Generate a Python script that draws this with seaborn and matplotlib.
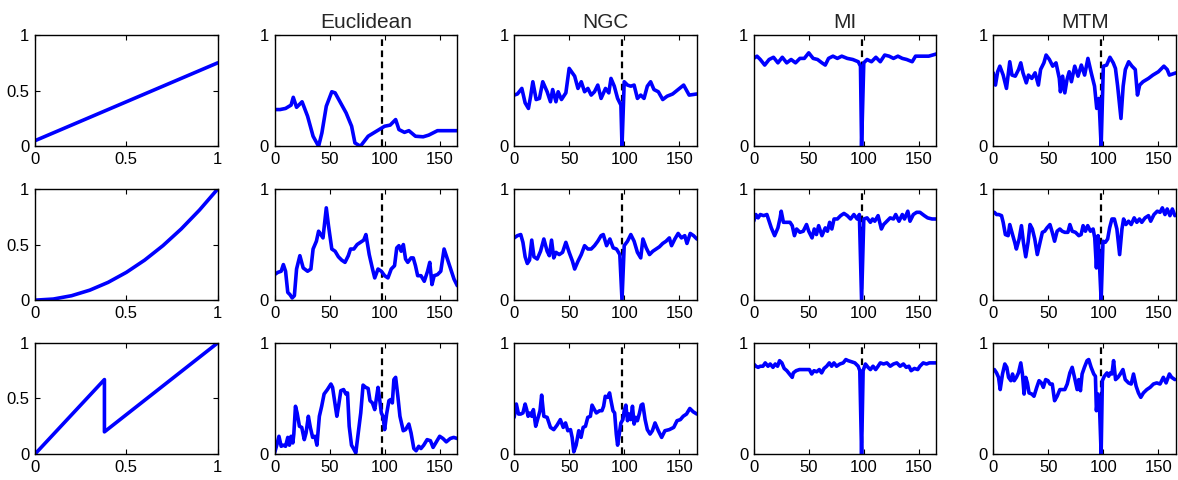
import numpy as np
import pandas as pd
import seaborn as sns
import matplotlib.pyplot as plt

# column titles (first column has none)
titles = ['', 'Euclidean', 'NGC', 'MI', 'MTM']
true_pos = 98

# left column: the transfer functions
f1_x = [0, 1]
f1_y = [0.05, 0.75]
f2_x = [0, 0.1, 0.2, 0.3, 0.4, 0.5, 0.6, 0.7, 0.8, 0.9, 1.0]
f2_y = [0, 0.01, 0.04, 0.09, 0.16, 0.25, 0.36, 0.49, 0.64, 0.81, 1.0]
f3_x = [0, 0.38, 0.38, 1.0]
f3_y = [0, 0.67, 0.2, 1.0]

# row 1
euc1_x = [0, 5, 10, 15, 17, 20, 25, 30, 35, 40, 43, 47, 52, 55, 60, 65, 70, 73, 78, 85, 90, 95, 100,
          105, 110, 113, 118, 122, 128, 135, 140, 148, 155, 166]
euc1_y = [0.33, 0.33, 0.34, 0.37, 0.44, 0.35, 0.40, 0.27, 0.09, 0.0, 0.12, 0.36, 0.49, 0.48, 0.39,
          0.30, 0.18, 0.03, 0.0, 0.09, 0.12, 0.15, 0.18, 0.19, 0.24, 0.15, 0.125, 0.14, 0.09, 0.085,
          0.10, 0.14, 0.14, 0.14]
ngc1_x = [0, 3, 7, 10, 13, 15, 17, 20, 23, 26, 30, 33, 35, 38, 40, 43, 47, 50, 55, 58, 61, 64, 67,
          70, 73, 76, 79, 83, 86, 88, 91, 94, 97, 98, 100, 103, 106, 109, 112, 115, 118, 121, 124,
          127, 131, 135, 139, 144, 149, 154, 159, 166]
ngc1_y = [0.46, 0.47, 0.52, 0.39, 0.34, 0.45, 0.58, 0.42, 0.43, 0.58, 0.49, 0.40, 0.51, 0.40, 0.49,
          0.42, 0.48, 0.70, 0.63, 0.52, 0.58, 0.49, 0.52, 0.46, 0.49, 0.55, 0.43, 0.52, 0.48, 0.61,
          0.54, 0.43, 0.37, 0.0, 0.58, 0.55, 0.54, 0.55, 0.43, 0.46, 0.43, 0.54, 0.58, 0.51, 0.49,
          0.42, 0.45, 0.47, 0.51, 0.55, 0.46, 0.47]
mi1_x = [0, 3, 6, 10, 14, 18, 22, 26, 30, 34, 38, 42, 46, 50, 54, 58, 62, 65, 68, 72, 76, 80, 85,
         90, 95, 97, 98, 100, 103, 107, 111, 115, 119, 123, 127, 131, 135, 139, 144, 147, 151, 155,
         159, 166]
mi1_y = [0.79, 0.81, 0.78, 0.73, 0.78, 0.80, 0.75, 0.80, 0.75, 0.78, 0.75, 0.79, 0.79, 0.84, 0.79,
         0.78, 0.75, 0.73, 0.79, 0.81, 0.79, 0.81, 0.79, 0.78, 0.76, 0.72, 0.0, 0.75, 0.78, 0.76,
         0.80, 0.76, 0.82, 0.81, 0.79, 0.81, 0.79, 0.78, 0.76, 0.81, 0.81, 0.81, 0.81, 0.83]
mtm1_x = [0, 2, 4, 6, 9, 12, 15, 17, 20, 23, 25, 27, 30, 32, 35, 38, 41, 43, 46, 48, 51, 54, 57,
          60, 61, 63, 65, 67, 69, 71, 74, 77, 80, 83, 86, 89, 92, 94, 96, 98, 100, 103, 106, 109,
          111, 113, 116, 118, 120, 123, 126, 129, 131, 133, 136, 141, 145, 150, 155, 158, 160, 166]
mtm1_y = [0.66, 0.55, 0.67, 0.72, 0.64, 0.52, 0.76, 0.64, 0.63, 0.69, 0.75, 0.66, 0.57, 0.64, 0.61,
          0.66, 0.55, 0.69, 0.75, 0.82, 0.78, 0.72, 0.75, 0.61, 0.49, 0.63, 0.48, 0.60, 0.67, 0.58,
          0.72, 0.63, 0.73, 0.64, 0.79, 0.66, 0.54, 0.34, 0.43, 0.0, 0.72, 0.73, 0.80, 0.75, 0.70,
          0.54, 0.25, 0.54, 0.69, 0.76, 0.72, 0.69, 0.46, 0.55, 0.58, 0.61, 0.64, 0.67, 0.72, 0.69,
          0.64, 0.66]

# row 2
euc2_x = [0, 3, 6, 8, 10, 12, 14, 16, 18, 20, 23, 26, 30, 33, 35, 38, 40, 42, 44, 47, 49, 52, 55,
          58, 61, 64, 67, 69, 72, 75, 78, 81, 83, 86, 89, 91, 94, 97, 100, 103, 106, 109, 111, 113,
          115, 117, 119, 121, 124, 126, 128, 130, 133, 136, 139, 141, 143, 145, 148, 151, 154, 157,
          160, 163, 166]
euc2_y = [0.23, 0.25, 0.26, 0.32, 0.26, 0.07, 0.05, 0.02, 0.04, 0.28, 0.40, 0.29, 0.26, 0.28, 0.46,
          0.53, 0.62, 0.59, 0.56, 0.83, 0.67, 0.46, 0.44, 0.39, 0.36, 0.34, 0.40, 0.46, 0.46, 0.50,
          0.52, 0.54, 0.59, 0.41, 0.28, 0.20, 0.28, 0.26, 0.22, 0.20, 0.28, 0.31, 0.47, 0.49, 0.44,
          0.50, 0.37, 0.34, 0.38, 0.38, 0.31, 0.22, 0.22, 0.17, 0.26, 0.34, 0.14, 0.22, 0.23, 0.26,
          0.46, 0.37, 0.28, 0.19, 0.13]
ngc2_x = [0, 3, 6, 8, 10, 12, 14, 16, 18, 21, 24, 27, 30, 32, 34, 36, 38, 41, 44, 47, 50, 53, 55,
          58, 61, 64, 67, 70, 73, 76, 79, 81, 84, 87, 90, 93, 96, 98, 100, 103, 106, 109, 112, 115,
          117, 120, 123, 126, 129, 132, 135, 138, 141, 143, 146, 149, 152, 155, 157, 160, 163, 166]
ngc2_y = [0.56, 0.58, 0.59, 0.52, 0.39, 0.33, 0.36, 0.54, 0.39, 0.37, 0.44, 0.55, 0.44, 0.40, 0.54,
          0.38, 0.43, 0.41, 0.43, 0.52, 0.43, 0.35, 0.28, 0.35, 0.41, 0.49, 0.46, 0.46, 0.49, 0.53,
          0.58, 0.59, 0.49, 0.55, 0.47, 0.46, 0.41, 0.0, 0.49, 0.53, 0.59, 0.53, 0.43, 0.38, 0.55,
          0.47, 0.41, 0.44, 0.46, 0.48, 0.51, 0.53, 0.56, 0.49, 0.55, 0.60, 0.56, 0.58, 0.51, 0.60,
          0.58, 0.55]
mi2_x = [0, 2, 4, 6, 9, 12, 14, 16, 19, 22, 24, 25, 27, 30, 33, 35, 37, 39, 42, 45, 48, 50, 53, 55,
         57, 59, 62, 65, 67, 69, 71, 73, 76, 79, 82, 85, 88, 91, 94, 96, 98, 100, 103, 106, 108,
         110, 113, 116, 118, 121, 124, 127, 129, 132, 135, 137, 140, 142, 145, 148, 151, 155, 158,
         162, 166]
mi2_y = [0.71, 0.77, 0.74, 0.77, 0.76, 0.77, 0.71, 0.65, 0.58, 0.65, 0.74, 0.80, 0.70, 0.70, 0.70,
         0.67, 0.58, 0.64, 0.61, 0.62, 0.68, 0.62, 0.56, 0.64, 0.59, 0.67, 0.58, 0.65, 0.62, 0.70,
         0.64, 0.73, 0.73, 0.76, 0.78, 0.76, 0.73, 0.77, 0.73, 0.77, 0.0, 0.73, 0.74, 0.70, 0.73,
         0.71, 0.76, 0.64, 0.68, 0.71, 0.74, 0.73, 0.77, 0.71, 0.77, 0.73, 0.80, 0.71, 0.77, 0.79,
         0.79, 0.76, 0.74, 0.73, 0.73]
mtm2_x = [1, 3, 5, 7.5, 9, 11, 13.5, 15, 17.5, 19.5, 21, 23.5, 25.6, 27.4, 29.5, 31.6, 33.4, 35.5,
          37.7, 40, 42.5, 44.6, 46.7, 48.8, 51.5, 53.6, 55.7, 58, 60.5, 62.6, 65, 67.8, 69.6, 71.7,
          74.7, 77.7, 79.8, 81.6, 83.7, 85.8, 88.3, 90.7, 92.2, 93.7, 95.2, 96.4, 98, 99.7, 101.8,
          103.9, 105.7, 107.8, 110, 112.3, 114.8, 116.9, 118.4, 120.5, 122.9, 125.3, 128, 130.4,
          132.8, 134.9, 137.9, 141, 143, 146, 149, 151.5, 153.6, 156, 158, 160.5, 162.7, 165]
mtm2_y = [0.79, 0.77, 0.77, 0.76, 0.70, 0.59, 0.58, 0.68, 0.59, 0.52, 0.46, 0.55, 0.67, 0.52, 0.39,
          0.52, 0.68, 0.64, 0.55, 0.41, 0.52, 0.61, 0.62, 0.65, 0.68, 0.61, 0.53, 0.62, 0.64, 0.62,
          0.61, 0.61, 0.68, 0.62, 0.61, 0.58, 0.59, 0.67, 0.62, 0.67, 0.62, 0.64, 0.56, 0.29, 0.58,
          0.34, 0.0, 0.53, 0.52, 0.55, 0.65, 0.73, 0.73, 0.64, 0.41, 0.64, 0.73, 0.68, 0.71, 0.68,
          0.74, 0.70, 0.73, 0.70, 0.74, 0.76, 0.71, 0.77, 0.80, 0.79, 0.83, 0.77, 0.82, 0.76, 0.82,
          0.76]

# row 3
euc3_x = [0, 2, 4, 6, 8, 10, 12, 13.5, 15, 16.6, 17.5, 19, 20.5, 22.6, 24.7, 27, 28.6, 30.7, 32.5,
          34.6, 36.7, 38.5, 40.7, 42.8, 45, 48, 51.2, 52.7, 54.8, 56.6, 58.1, 60.2, 62.7, 64.8,
          66.3, 67.8, 69.9, 71.7, 73.8, 75.9, 78.3, 80.4, 82.8, 85, 86.7, 88.9, 91, 92.8, 94, 95.5,
          97, 98.5, 100, 101.8, 103.9, 105.4, 107, 108.4, 110, 112, 113.9, 116.9, 119, 122, 124,
          126.5, 128.6, 131, 133, 135.5, 138.6, 141.6, 144, 147, 150, 153, 156, 159.6, 162.7, 166]
euc3_y = [0.01, 0.08, 0.16, 0.07, 0.08, 0.07, 0.15, 0.08, 0.16, 0.10, 0.18, 0.43, 0.37, 0.25, 0.24,
          0.13, 0.19, 0.34, 0.24, 0.15, 0.16, 0.08, 0.34, 0.43, 0.54, 0.58, 0.63, 0.60, 0.46, 0.34,
          0.43, 0.57, 0.58, 0.54, 0.55, 0.25, 0.08, 0.05, 0.01, 0.18, 0.37, 0.62, 0.60, 0.59, 0.48,
          0.46, 0.40, 0.52, 0.60, 0.49, 0.37, 0.34, 0.22, 0.36, 0.48, 0.49, 0.46, 0.67, 0.69, 0.52,
          0.34, 0.21, 0.22, 0.27, 0.19, 0.05, 0.03, 0.07, 0.05, 0.08, 0.13, 0.12, 0.06, 0.11, 0.16,
          0.14, 0.11, 0.14, 0.15, 0.14]
ngc3_x = [0, 2, 4, 6, 8, 10, 11.4, 12.7, 14.5, 16, 17.5, 19.6, 21, 23.5, 25, 27, 30, 33, 36, 39,
          42, 44.6, 46.7, 48.8, 51.2, 52.7, 54.2, 56.3, 58.7, 60.8, 62.7, 64.8, 66.9, 69.3, 70.8,
          72.9, 74.7, 77.7, 79.8, 81.3, 82.8, 84.9, 86.7, 88, 89.8, 91.3, 92.8, 94, 95.5, 97, 98.8,
          100, 101.5, 103, 104.5, 106, 107.5, 109, 110.5, 112, 113.9, 115.4, 116.9, 119, 121,
          123.5, 125.6, 128, 131, 134, 137, 141, 145, 148, 151, 153.6, 156.6, 159.6, 162.7, 166]
ngc3_y = [0.33, 0.45, 0.36, 0.36, 0.37, 0.45, 0.40, 0.34, 0.37, 0.34, 0.40, 0.25, 0.30, 0.39, 0.53,
          0.34, 0.33, 0.24, 0.22, 0.26, 0.31, 0.24, 0.28, 0.21, 0.22, 0.15, 0.02, 0.08, 0.21, 0.15,
          0.24, 0.25, 0.33, 0.34, 0.44, 0.40, 0.37, 0.39, 0.39, 0.43, 0.52, 0.51, 0.55, 0.48, 0.39,
          0.37, 0.18, 0.08, 0.18, 0.28, 0.31, 0.39, 0.44, 0.30, 0.36, 0.31, 0.43, 0.27, 0.33, 0.30,
          0.37, 0.44, 0.45, 0.31, 0.22, 0.18, 0.21, 0.28, 0.21, 0.15, 0.21, 0.22, 0.24, 0.30, 0.31,
          0.34, 0.36, 0.41, 0.38, 0.36]
mi3_x = [0, 2, 4, 6, 8.4, 10.5, 13, 15, 17.5, 19.6, 21.7, 23.5, 25.6, 27.7, 30.1, 32.5, 35, 36,
         38.6, 41.6, 44.6, 47.6, 50.6, 52.7, 54.8, 57.2, 59.6, 61.7, 63.9, 66.3, 68.7, 70.8, 72.9,
         75.3, 78.3, 81.3, 83.7, 85.8, 88.9, 91.9, 94.9, 96.4, 98, 99.4, 101.5, 103.9, 106, 108.4,
         110.8, 113, 115, 118, 121, 124, 127, 130, 133, 136, 138.6, 141, 143, 146, 149, 151, 154,
         157, 159.6, 162.7, 166]
mi3_y = [0.81, 0.79, 0.78, 0.79, 0.79, 0.82, 0.79, 0.81, 0.78, 0.81, 0.79, 0.84, 0.82, 0.77, 0.75,
         0.72, 0.69, 0.73, 0.75, 0.76, 0.76, 0.76, 0.76, 0.72, 0.75, 0.74, 0.76, 0.73, 0.77, 0.79,
         0.82, 0.79, 0.82, 0.79, 0.81, 0.82, 0.85, 0.84, 0.83, 0.82, 0.79, 0.75, 0.0, 0.75, 0.81,
         0.78, 0.76, 0.79, 0.76, 0.79, 0.82, 0.81, 0.82, 0.79, 0.81, 0.82, 0.79, 0.81, 0.78, 0.79,
         0.75, 0.77, 0.76, 0.79, 0.82, 0.81, 0.82, 0.82, 0.82]
mtm3_x = [1, 3, 4.8, 6.3, 8.4, 10.5, 12.3, 13.9, 16, 17.5, 19, 21, 22.9, 25, 26.5, 28, 29.5, 31,
          32.5, 35, 37, 39.5, 41.6, 43.7, 45.5, 47.6, 49.7, 51.5, 53.6, 55.7, 58, 60.5, 62.7, 65,
          67.2, 69.6, 71.7, 73.8, 76.2, 77.7, 79.2, 80.7, 82.8, 85.2, 86.7, 88.9, 91.3, 92.8, 93.7,
          95.2, 96.4, 98, 99.1, 100.9, 103.3, 104.8, 106.3, 107.8, 109.3, 111.1, 113.3, 115.4,
          117.8, 119.9, 122.9, 125.3, 127.4, 129.8, 131.9, 134, 136.4, 139.5, 142.5, 145.5, 148.5,
          151.5, 154.5, 157, 160, 162, 165]
mtm3_y = [0.76, 0.73, 0.69, 0.58, 0.72, 0.81, 0.78, 0.69, 0.66, 0.72, 0.66, 0.69, 0.73, 0.82, 0.72,
          0.54, 0.69, 0.64, 0.55, 0.54, 0.52, 0.60, 0.66, 0.64, 0.60, 0.67, 0.66, 0.63, 0.63, 0.48,
          0.52, 0.58, 0.58, 0.58, 0.63, 0.73, 0.78, 0.69, 0.58, 0.67, 0.57, 0.72, 0.78, 0.84, 0.85,
          0.78, 0.72, 0.70, 0.39, 0.54, 0.46, 0.0, 0.66, 0.70, 0.73, 0.70, 0.73, 0.72, 0.84, 0.67,
          0.69, 0.72, 0.76, 0.67, 0.64, 0.63, 0.72, 0.61, 0.55, 0.51, 0.55, 0.58, 0.60, 0.63, 0.64,
          0.63, 0.69, 0.64, 0.72, 0.69, 0.67]

grid = [
    [(f1_x, f1_y), (euc1_x, euc1_y), (ngc1_x, ngc1_y), (mi1_x, mi1_y), (mtm1_x, mtm1_y)],
    [(f2_x, f2_y), (euc2_x, euc2_y), (ngc2_x, ngc2_y), (mi2_x, mi2_y), (mtm2_x, mtm2_y)],
    [(f3_x, f3_y), (euc3_x, euc3_y), (ngc3_x, ngc3_y), (mi3_x, mi3_y), (mtm3_x, mtm3_y)],
]

sns.set_style('ticks')
plt.rcParams['font.family'] = ['Liberation Sans', 'DejaVu Sans']
plt.rcParams['font.size'] = 12

fig, axes = plt.subplots(3, 5, figsize=(11.78, 4.8), dpi=100)
fig.subplots_adjust(left=0.0297, right=0.9983, bottom=0.054, top=0.927, wspace=0.311, hspace=0.384)

for r in range(3):
    for c in range(5):
        ax = axes[r, c]
        xs, ys = grid[r][c]
        if c > 0:
            ax.axvline(true_pos, color='k', ls='--', lw=1.6, dashes=(3, 2))
        sns.lineplot(x=xs, y=ys, ax=ax, color='#0000ff', lw=2.6, estimator=None, sort=False)
        ax.set_ylim(0, 1)
        if c == 0:
            ax.set_xlim(0, 1)
            ax.set_xticks([0, 0.5, 1])
            ax.set_xticklabels(['0', '0.5', '1'])
            ax.set_yticks([0, 0.5, 1])
            ax.set_yticklabels(['0', '0.5', '1'])
        else:
            ax.set_xlim(0, 166)
            ax.set_xticks([0, 50, 100, 150])
            ax.set_yticks([0, 1])
        ax.tick_params(direction='in', top=True, right=True, length=3.5, width=0.8,
                       labelsize=12, pad=4, colors='k')
        for sp in ax.spines.values():
            sp.set_visible(True)
            sp.set_linewidth(1.0)
            sp.set_color('k')
        if r == 0 and titles[c]:
            ax.set_title(titles[c], fontsize=15, pad=5)

fig.savefig('out.png', dpi=100)
